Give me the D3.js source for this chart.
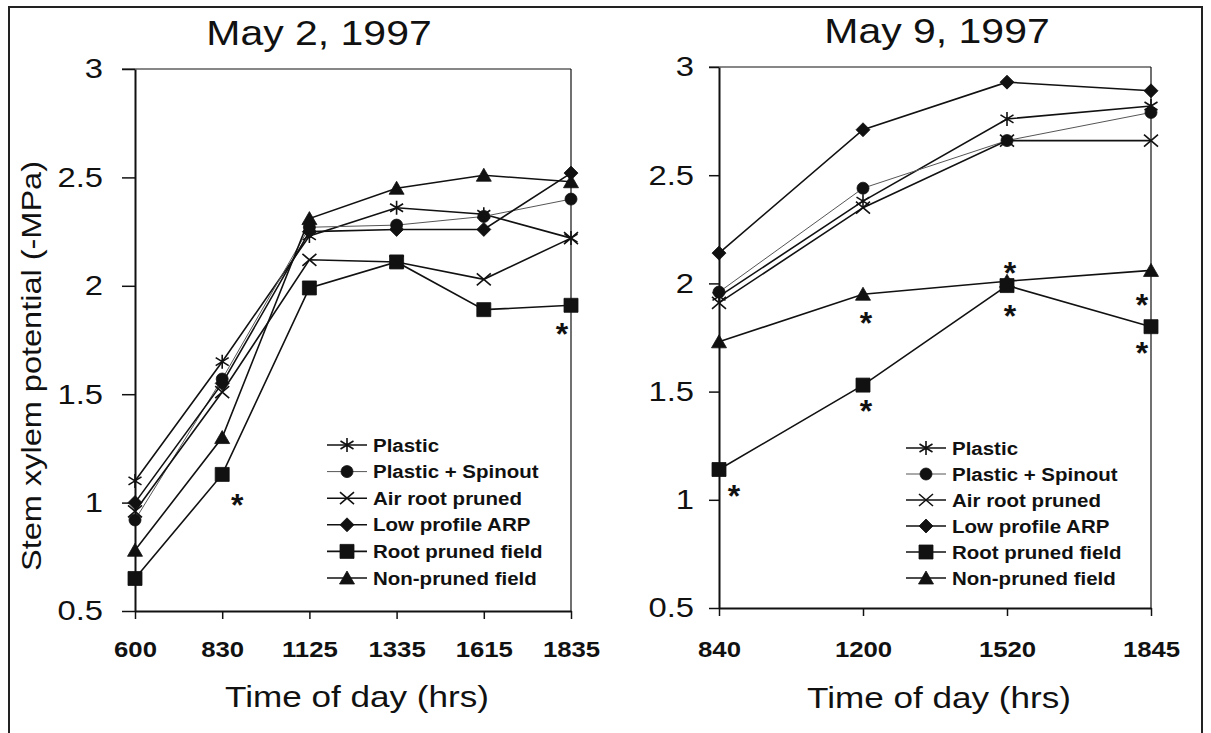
<!DOCTYPE html>
<html>
<head>
<meta charset="utf-8">
<script src="https://cdn.jsdelivr.net/npm/d3@7"></script>
<style>
  html, body { margin: 0; padding: 0; background: #fff; }
  svg { display: block; font-family: "Liberation Sans", Arial, Helvetica, sans-serif; }
</style>
</head>
<body>
<svg id="chart" width="1211" height="733"></svg>
<script>
// ---------- DATA ----------
const seriesNames = ["Plastic", "Plastic + Spinout", "Air root pruned", "Low profile ARP", "Root pruned field", "Non-pruned field"];
const seriesMarkers = ["asterisk", "circle", "cross", "diamond", "square", "triangle"];

const timesMay2 = ["600", "830", "1125", "1335", "1615", "1835"];
const may2Plastic     = [1.10, 1.65, 2.23, 2.36, 2.33, 2.22];
const may2Spinout     = [0.92, 1.57, 2.27, 2.28, 2.32, 2.40];
const may2AirRoot     = [0.96, 1.51, 2.12, 2.11, 2.03, 2.22];
const may2LowProfile  = [1.00, 1.55, 2.25, 2.26, 2.26, 2.52];
const may2RootPruned  = [0.65, 1.13, 1.99, 2.11, 1.89, 1.91];
const may2NonPruned   = [0.78, 1.30, 2.31, 2.45, 2.51, 2.48];

const timesMay9 = ["840", "1200", "1520", "1845"];
const may9Plastic     = [1.94, 2.38, 2.76, 2.82];
const may9Spinout     = [1.96, 2.44, 2.66, 2.79];
const may9AirRoot     = [1.91, 2.35, 2.66, 2.66];
const may9LowProfile  = [2.14, 2.71, 2.93, 2.89];
const may9RootPruned  = [1.14, 1.53, 1.99, 1.80];
const may9NonPruned   = [1.73, 1.95, 2.01, 2.06];

// significance asterisks: [time, value, side(+1 right / -1 left / 0 centred)]
const may2Signif = [["830", 1.03, 1], ["1835", 1.82, -1]];
const may9Signif = [["840", 1.06, 1], ["1200", 1.45, 0], ["1200", 1.86, 0], ["1520", 2.09, 0],
                    ["1520", 1.89, 0], ["1845", 1.94, -1], ["1845", 1.72, -1]];

const yTicks = [0.5, 1, 1.5, 2, 2.5, 3];
const titles = ["May 2, 1997", "May 9, 1997"];
const xTitle = "Time of day (hrs)";
const yTitle = "Stem xylem potential (-MPa)";

// ---------- DRAW ----------
const svg = d3.select("#chart");
const STRETCH = 1.17;
const INK = "#111";

svg.append("rect").attr("x", 9).attr("y", 7).attr("width", 1193).attr("height", 760)
  .attr("fill", "none").attr("stroke", "#222").attr("stroke-width", 2);

function markerPath(type) {
  const p = d3.path();
  if (type === "asterisk") {
    p.moveTo(0, -7); p.lineTo(0, 7);
    p.moveTo(-6.5, -4); p.lineTo(6.5, 4);
    p.moveTo(-6.5, 4); p.lineTo(6.5, -4);
  } else if (type === "cross") {
    p.moveTo(-7, -6); p.lineTo(7, 6);
    p.moveTo(-7, 6); p.lineTo(7, -6);
  } else if (type === "circle") {
    p.arc(0, 0, 6, 0, 2 * Math.PI);
  } else if (type === "diamond") {
    p.moveTo(0, -7); p.lineTo(7, 0); p.lineTo(0, 7); p.lineTo(-7, 0); p.closePath();
  } else if (type === "square") {
    p.rect(-7, -7, 14, 14);
  } else if (type === "triangle") {
    p.moveTo(0, -7); p.lineTo(7.5, 6); p.lineTo(-7.5, 6); p.closePath();
  }
  return p.toString();
}
function drawMarker(g, type, x, y) {
  const open = (type === "asterisk" || type === "cross");
  g.append("path").attr("d", markerPath(type))
    .attr("transform", `translate(${x},${y})`)
    .attr("fill", open ? "none" : INK)
    .attr("stroke", INK)
    .attr("stroke-width", open ? 1.6 : 0.8);
}

function stretch(sel, f) {
  sel.each(function () {
    const len = this.getComputedTextLength();
    d3.select(this).attr("textLength", len * (f || STRETCH)).attr("lengthAdjust", "spacingAndGlyphs");
  });
}

const panels = [
  { times: timesMay2, series: [may2Plastic, may2Spinout, may2AirRoot, may2LowProfile, may2RootPruned, may2NonPruned],
    signif: may2Signif, x0: 135, x1: 571, y0: 611, y1: 69, yTick: 13, yPad: 19, xPad: 22,
    titleX: 319, titleY: 45, xTitleY: 707, legX: 327, legY: 445, legStep: 26.6 },
  { times: timesMay9, series: [may9Plastic, may9Spinout, may9AirRoot, may9LowProfile, may9RootPruned, may9NonPruned],
    signif: may9Signif, x0: 719, x1: 1151, y0: 608, y1: 67, yTick: 10, yPad: 15, xPad: 25,
    titleX: 937, titleY: 43, xTitleY: 708, legX: 906, legY: 448, legStep: 26 }
];

panels.forEach((P, pi) => {
  const x = d3.scalePoint().domain(P.times).range([P.x0, P.x1]).padding(0);
  const y = d3.scaleLinear().domain([0.5, 3]).range([P.y0, P.y1]);
  const g = svg.append("g");

  // frame (top, right)
  g.append("line").attr("x1", P.x0 - P.yTick).attr("x2", P.x1).attr("y1", y(3)).attr("y2", y(3))
    .attr("stroke", INK).attr("stroke-width", 1.2);
  g.append("line").attr("x1", P.x1).attr("x2", P.x1).attr("y1", y(3)).attr("y2", y(0.5))
    .attr("stroke", INK).attr("stroke-width", 1.2);

  // axes
  const ya = g.append("g").attr("transform", `translate(${P.x0},0)`)
    .call(d3.axisLeft(y).tickValues(yTicks).tickFormat(d3.format("")).tickSize(P.yTick).tickSizeOuter(0).tickPadding(P.yPad));
  ya.select(".domain").attr("stroke", INK).attr("stroke-width", 2);
  ya.selectAll(".tick line").attr("stroke", INK).attr("stroke-width", 1.5);
  ya.selectAll(".tick text").attr("font-size", 28).attr("fill", INK).attr("font-family", null);

  const xa = g.append("g").attr("transform", `translate(0,${P.y0})`)
    .call(d3.axisBottom(x).tickSize(8).tickSizeOuter(0).tickPadding(P.xPad));
  xa.select(".domain").attr("stroke", INK).attr("stroke-width", 2);
  xa.selectAll(".tick line").attr("stroke", INK).attr("stroke-width", 1.5);
  xa.selectAll(".tick text").attr("font-size", 22).attr("font-weight", "bold").attr("fill", INK).attr("font-family", null);

  stretch(ya.selectAll(".tick text"));
  stretch(xa.selectAll(".tick text"));

  // title
  const t = g.append("text").attr("x", P.titleX).attr("y", P.titleY).attr("text-anchor", "middle")
    .attr("font-size", 35).attr("fill", INK).text(titles[pi]);
  stretch(t);
  const xt = g.append("text").attr("x", (P.x0 + P.x1) / 2 + 4).attr("y", P.xTitleY).attr("text-anchor", "middle")
    .attr("font-size", 30).attr("fill", INK).text(xTitle);
  stretch(xt);

  // lines
  const line = d3.line().x((d, i) => x(P.times[i])).y(d => y(d));
  P.series.forEach((vals, si) => {
    g.append("path").datum(vals).attr("d", line).attr("fill", "none")
      .attr("stroke", si === 1 ? "#555" : INK)
      .attr("stroke-width", si === 1 ? 1 : 1.6);
  });
  // markers (draw in reverse so plastic on top)
  [5, 4, 3, 2, 1, 0].forEach(si => {
    P.series[si].forEach((v, i) => drawMarker(g, seriesMarkers[si], x(P.times[i]), y(v)));
  });

  // significance asterisks
  P.signif.forEach(([tm, v, side]) => {
    g.append("text").attr("x", x(tm) + side * 12 + 3).attr("y", y(v)).attr("dy", "0.62em")
      .attr("text-anchor", "middle").attr("font-size", 32).attr("font-weight", "bold")
      .attr("fill", INK).text("*");
  });

  // legend
  seriesNames.forEach((name, si) => {
    const ly = P.legY + si * P.legStep;
    g.append("line").attr("x1", P.legX).attr("x2", P.legX + 40).attr("y1", ly).attr("y2", ly)
      .attr("stroke", si === 1 ? "#555" : INK).attr("stroke-width", si === 1 ? 1 : 1.6);
    drawMarker(g, seriesMarkers[si], P.legX + 20, ly);
    const lt = g.append("text").attr("x", P.legX + 46).attr("y", ly + 6.5)
      .attr("font-size", 17.5).attr("font-weight", "bold").attr("fill", INK).text(name);
    stretch(lt);
  });
});

// y-axis title
svg.append("text")
  .attr("transform", "translate(41,366) rotate(-90)")
  .attr("text-anchor", "middle").attr("font-size", 28).attr("fill", INK)
  .attr("textLength", 410).attr("lengthAdjust", "spacingAndGlyphs")
  .text(yTitle);
</script>
</body>
</html>
